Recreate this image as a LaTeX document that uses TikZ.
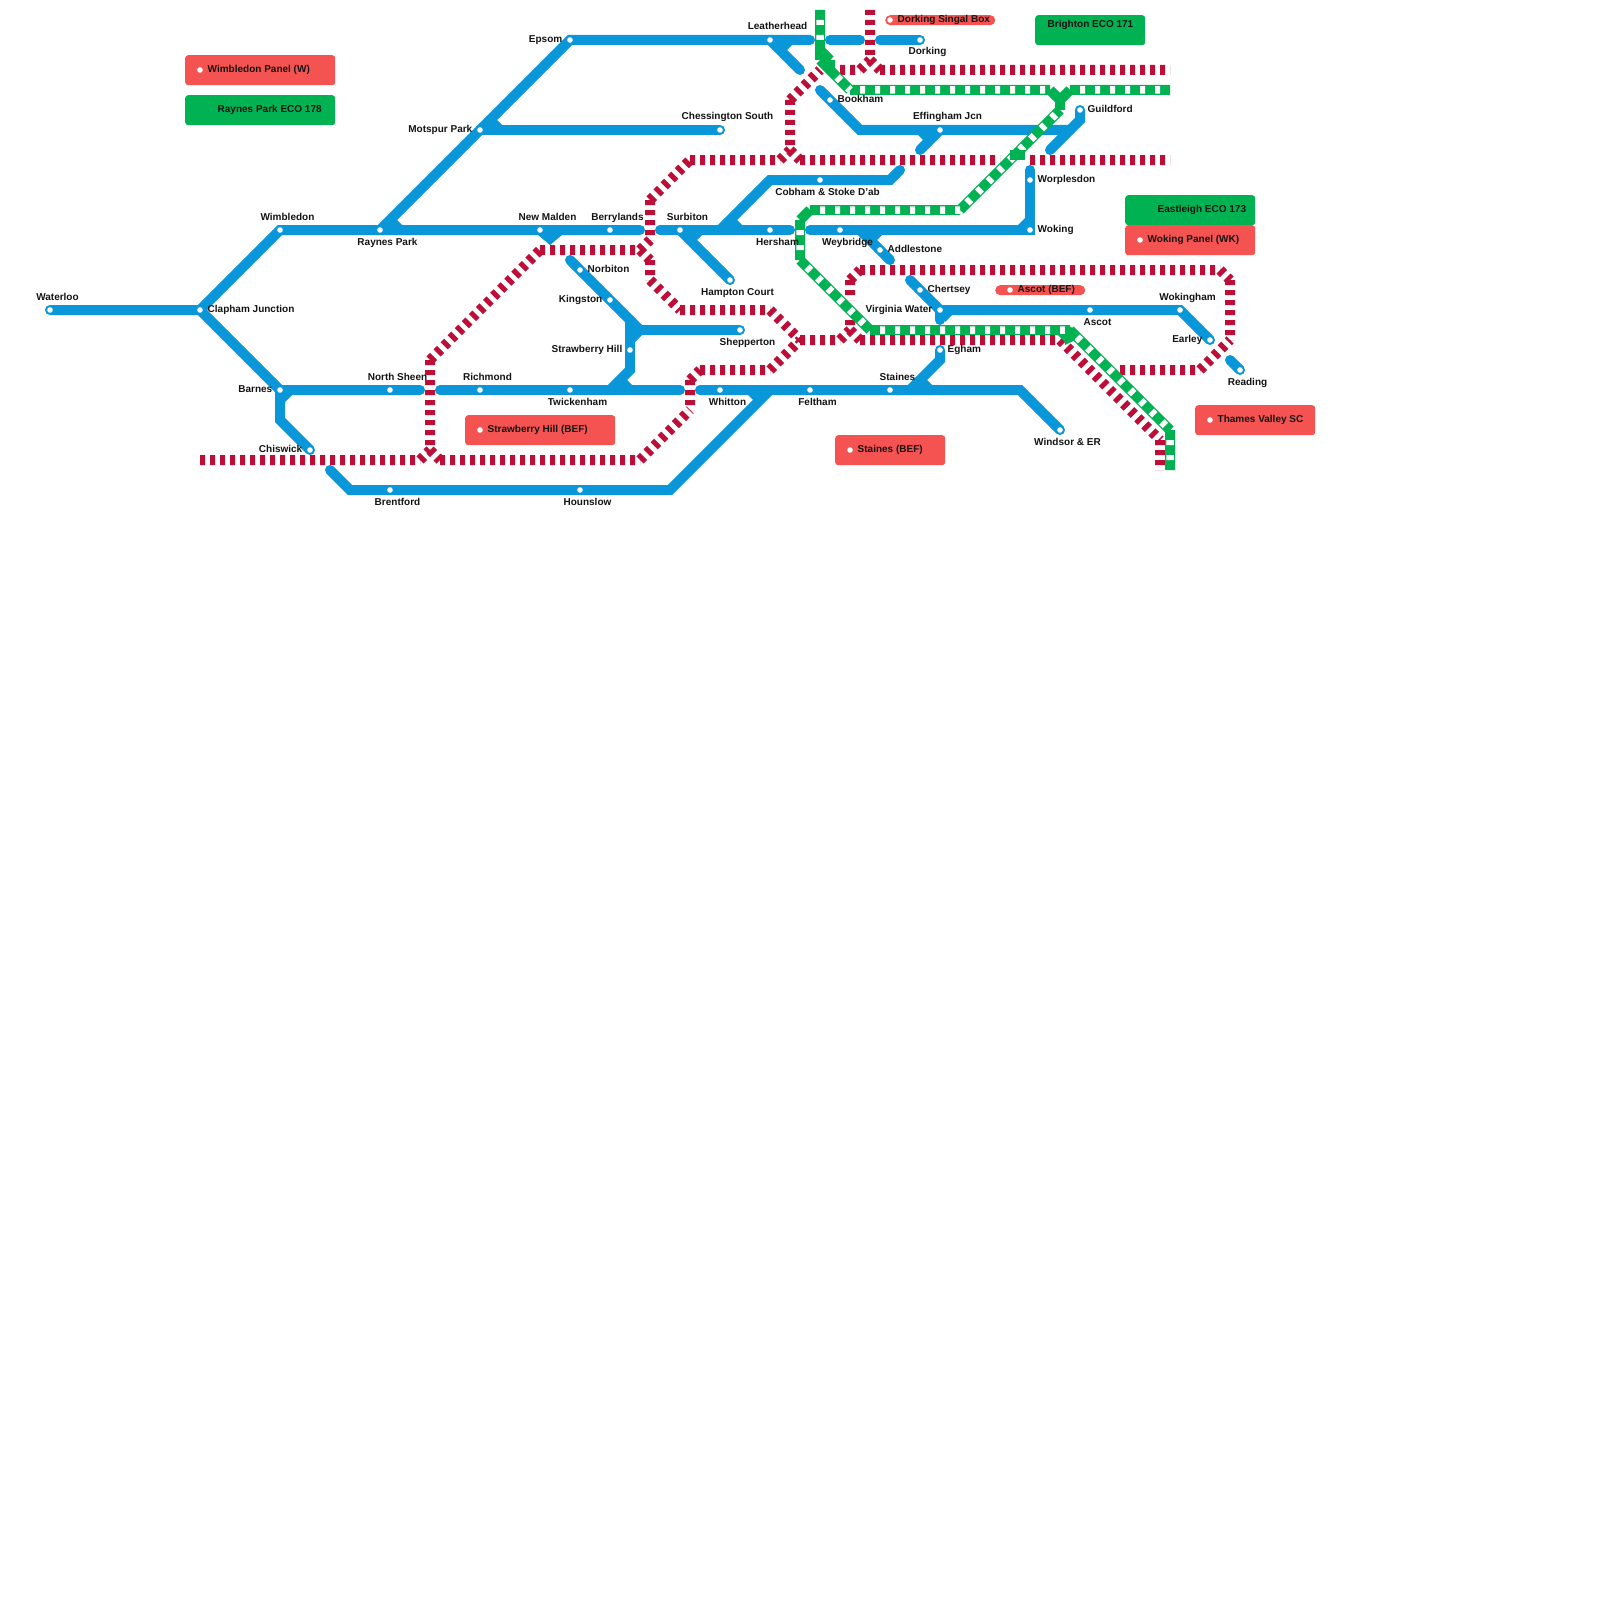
\documentclass[tikz,border=0pt]{standalone}
\usepackage{fontspec}
\setmainfont{Liberation Sans}
\definecolor{tblue}{RGB}{9,151,217}
\definecolor{tred}{RGB}{189,14,56}
\definecolor{tgreen}{RGB}{0,178,82}
\definecolor{boxred}{RGB}{245,82,82}
\tikzset{
  blueline/.style={draw=tblue,line width=10pt,line cap=round,line join=miter},
  fillet/.style={fill=tblue},
  redline/.style={draw=tred,line width=10pt,line cap=butt,dash pattern=on 5pt off 5pt},
  greenline/.style={draw=tgreen,line width=10pt,line cap=butt},
  whitedash/.style={draw=white,line width=7.5pt,line cap=butt,dash pattern=on 5pt off 10pt,dash phase=5pt},
  stndot/.style={circle,fill=white,inner sep=0pt,minimum size=5.6pt},
  lbl/.style={inner sep=0pt,font=\bfseries\fontsize{10}{12}\selectfont,text=black!92},
  labT/.style={lbl,anchor=base,xshift=7.5pt,yshift=10pt},
  labB/.style={lbl,anchor=base,xshift=7.5pt,yshift=-15pt},
  labR/.style={lbl,anchor=base west,xshift=7.5pt,yshift=-2.5pt},
  labL/.style={lbl,anchor=base east,xshift=-7.5pt,yshift=-2.5pt},
  panelbox/.style={anchor=north west,inner sep=0pt,rounded corners=3pt,minimum height=30pt},
  redbox/.style={panelbox,fill=boxred},
  greenbox/.style={panelbox,fill=tgreen},
  pillbox/.style={anchor=north west,inner sep=0pt,rounded corners=5pt,minimum height=10pt,fill=boxred},
}
\begin{document}
\begin{tikzpicture}[x=1pt,y=-1pt]
\useasboundingbox (0,0) rectangle (1600,1600);
\fill[white] (0,0) rectangle (1600,1600);
% stations
\foreach \n/\x/\y in {waterloo/50/310,clapham/200/310,wimbledon/280/230,raynes/380/230,motspur/480/130,epsom/570/40,
 leatherhead/770/40,dorking/920/40,chessington/720/130,bookham/830/100,effingham/940/130,guildford/1080/110,
 worplesdon/1030/180,woking/1030/230,cobham/820/180,newmalden/540/230,berrylands/610/230,surbiton/680/230,
 hersham/770/230,weybridge/840/230,addlestone/880/250,norbiton/580/270,kingston/610/300,hampton/730/280,
 shepperton/740/330,strawberry/630/350,chertsey/920/290,virginia/940/310,ascot/1090/310,wokingham/1180/310,
 earley/1210/340,reading/1240/370,egham/940/350,staines/890/390,feltham/810/390,whitton/720/390,windsor/1060/430,
 twickenham/570/390,richmond/480/390,northsheen/390/390,barnes/280/390,chiswick/310/450,brentford/390/490,
 hounslow/580/490,
 pwimbledon/200/70,pstrawberry/480/430,pstaines/850/450,pwoking/1140/240,pthames/1210/420,pascot/1010/290,pdorking/890/20,
 eraynes/210/110,ebrighton/1040/25,eeastleigh/1150/210}
 {\coordinate (\n) at (\x,\y);}
% waypoints
\foreach \x/\y in {810/40,830/40,860/40,880/40,800/70,820/90,860/130,920/150,1070/130,1080/120,1050/150,1030/170,810/230,
 900/170,890/180,770/180,720/230,640/230,660/230,790/230,860/230,890/260,910/280,1230/360,940/320,940/360,910/390,
 1020/390,700/390,350/490,670/490,770/390,330/470,280/420,420/390,440/390,680/390,570/260,630/320,630/330,630/370,610/390,
 200/460,420/460,430/450,430/360,540/250,640/250,650/240,650/200,690/160,780/160,790/150,790/100,820/70,840/70,860/70,870/60,870/10,
 880/70,1170/70,800/160,1000/160,1030/160,1170/160,440/460,640/460,690/410,690/380,700/370,770/370,800/340,840/340,850/330,850/320,850/300,850/280,860/270,
 1220/270,1230/280,1230/340,1200/370,1120/370,650/260,650/280,680/310,770/310,860/340,1060/340,1160/440,1160/470,
 820/10,820/60,820/50,830/60,830/70,850/90,1050/90,1070/90,1170/90,1060/100,1060/110,960/210,810/210,800/220,800/260,870/330,1070/330,1060/330,1070/340,
 1170/430,1170/470}
 {\coordinate (p\x-\y) at (\x,\y);}
% panels
\node[redbox,minimum width=150pt] (b-wimbledon) at (185,55) {};
\node[greenbox,minimum width=150pt] (b-raynes) at (185,95) {};
\node[redbox,minimum width=150pt] (b-strawberry) at (465,415) {};
\node[redbox,minimum width=110pt] (b-staines) at (835,435) {};
\node[greenbox,minimum width=110pt] (b-brighton) at (1035,15) {};
\node[greenbox,minimum width=130pt] (b-eastleigh) at (1125,195) {};
\node[redbox,minimum width=130pt] (b-woking) at (1125,225) {};
\node[redbox,minimum width=120pt] (b-thames) at (1195,405) {};
\node[pillbox,minimum width=110pt] (b-dorking) at (885,15) {};
\node[pillbox,minimum width=90pt] (b-ascot) at (995,285) {};
% blue lines
\draw[blueline] (waterloo)--(clapham)--(wimbledon)--(p640-230);
\draw[blueline] (clapham)--(barnes)--(p420-390);
\draw[blueline] (barnes)--(p280-420)--(chiswick);
\draw[blueline] (raynes)--(motspur)--(epsom)--(p810-40);
\draw[blueline] (motspur)--(chessington);
\draw[blueline] (leatherhead)--(p800-70);
\draw[blueline] (p830-40)--(p860-40);
\draw[blueline] (p880-40)--(dorking);
\draw[blueline] (p820-90)--(p860-130)--(p1070-130);
\draw[blueline] (effingham)--(p920-150);
\draw[blueline] (guildford)--(p1080-120)--(p1050-150);
\draw[blueline] (p1030-170)--(woking)--(p810-230);
\draw[blueline] (p900-170)--(p890-180)--(p770-180)--(p720-230);
\draw[blueline] (p660-230)--(p790-230);
\draw[blueline] (surbiton)--(hampton);
\draw[blueline] (p860-230)--(p890-260);
\draw[blueline] (p910-280)--(virginia)--(wokingham)--(earley);
\draw[blueline] (virginia)--(p940-320);
\draw[blueline] (p1230-360)--(reading);
\draw[blueline] (egham)--(p940-360)--(p910-390);
\draw[blueline] (p440-390)--(p680-390);
\draw[blueline] (p700-390)--(p1020-390)--(windsor);
\draw[blueline] (p330-470)--(p350-490)--(p670-490)--(p770-390);
\draw[blueline] (p570-260)--(p630-320)--(p630-370)--(p610-390);
\draw[blueline] (p630-330)--(shepperton);
% junction fillets
\fill[fillet] (raynes)--+(17,-10)--+(22,-5)--cycle;
\fill[fillet] (motspur)--+(17,-10)--+(22,-5)--cycle;
\fill[fillet] (leatherhead)--+(17,10)--+(22,5)--cycle;
\fill[fillet] (surbiton)--+(17,10)--+(22,5)--cycle;
\fill[fillet] (p720-230)--+(17,-10)--+(22,-5)--cycle;
\fill[fillet] (effingham)--+(-17,10)--+(-22,5)--cycle;
\fill[fillet] (p860-230)--+(17,10)--+(22,5)--cycle;
\fill[fillet] (p910-390)--+(17,-10)--+(22,-5)--cycle;
\fill[fillet] (p610-390)--+(17,-10)--+(22,-5)--cycle;
\fill[fillet] (p770-390)--+(-17,10)--+(-22,5)--cycle;
\fill[fillet] (barnes)--+(5,12)--+(12,5)--cycle;
\fill[fillet] (woking)--+(-12,-5)--+(-5,-12)--cycle;
\fill[fillet] (virginia)--+(5,12)--+(12,5)--cycle;
\fill[fillet] (p630-330)--+(5,12)--+(12,5)--cycle;
\fill[fillet] (p630-330)--+(5,-12)--+(12,-5)--cycle;
\fill[fillet] (newmalden)++(-2,5)--+(24,0)--+(12,10)--cycle;
\fill[fillet] (p1070-130)--+(10,-10)--+(0,5)--cycle;
% red lines
\draw[redline] (p200-460)--(p420-460) (p420-460)--(p430-450) (p430-360)--(p430-450)
 (p430-360)--(p540-250) (p540-250)--(p640-250) (p640-250)--(p650-240) (p650-200)--(p650-240)
 (p650-200)--(p690-160) (p690-160)--(p780-160) (p780-160)--(p790-150) (p790-100)--(p790-150)
 (p790-100)--(p820-70) (p840-70)--(p860-70) (p860-70)--(p870-60) (p870-10)--(p870-60)
 (p870-60)--(p880-70) (p880-70)--(p1170-70) (p790-150)--(p800-160) (p800-160)--(p1000-160) (p1030-160)--(p1170-160)
 (p430-450)--(p440-460) (p440-460)--(p640-460) (p640-460)--(p690-410) (p690-380)--(p690-410)
 (p690-380)--(p700-370) (p700-370)--(p770-370) (p770-370)--(p800-340) (p800-340)--(p840-340) (p840-340)--(p850-330)
 (p850-320)--(p850-330) (p850-280)--(p850-300) (p850-280)--(p860-270) (p860-270)--(p1220-270) (p1220-270)--(p1230-280)
 (p1230-280)--(p1230-340) (p1200-370)--(p1230-340) (p1120-370)--(p1200-370)
 (p640-250)--(p650-260) (p650-260)--(p650-280) (p650-280)--(p680-310) (p680-310)--(p770-310) (p770-310)--(p800-340)
 (p850-330)--(p860-340) (p860-340)--(p1060-340) (p1060-340)--(p1160-440) (p1160-440)--(p1160-470);
% green lines
\draw[greenline] (p820-10)--(p820-60) (p820-60)--(p830-70) (p820-50)--(p830-60) (p830-60)--(p830-70) (p830-70)--(p850-90)
 (p850-90)--(p1050-90) (p1050-90)--(p1060-100) (p1070-90)--(p1060-100) (p1070-90)--(p1170-90) (p1060-100)--(p1060-110)
 (p960-210)--(p1060-110) (p810-210)--(p960-210) (p800-220)--(p810-210) (p800-220)--(p800-260) (p800-260)--(p870-330)
 (p870-330)--(p1070-330) (p1060-330)--(p1070-340) (p1070-330)--(p1070-340) (p1070-330)--(p1170-430) (p1170-430)--(p1170-470);
\draw[whitedash] (p820-10)--(p820-50) (p830-70)--(p850-90) (p850-90)--(p1050-90) (p1070-90)--(p1170-90)
 (p960-210)--(p1060-110) (p810-210)--(p960-210) (p800-220)--(p800-260) (p800-260)--(p870-330)
 (p870-330)--(p1070-330) (p1070-330)--(p1170-430) (p1170-430)--(p1170-470);
\fill[tgreen] (1010,150) rectangle (1025,160);
\fill[tgreen] (1065,325)--(1073,328)--(1075,340)--(1065,345)--cycle;
% station dots
\foreach \s in {waterloo,clapham,wimbledon,raynes,motspur,epsom,leatherhead,dorking,chessington,bookham,effingham,guildford,
 worplesdon,woking,cobham,newmalden,berrylands,surbiton,hersham,weybridge,addlestone,norbiton,kingston,hampton,
 shepperton,strawberry,chertsey,virginia,ascot,wokingham,earley,reading,egham,staines,feltham,whitton,windsor,
 twickenham,richmond,northsheen,barnes,chiswick,brentford,hounslow,pwimbledon,pstrawberry,pstaines,pwoking,pthames,pascot,pdorking}
 {\node[stndot] (dot-\s) at (\s) {};}
% labels
\node[labT] (t-waterloo) at (waterloo) {Waterloo};
\node[labR] (t-clapham) at (clapham) {Clapham Junction};
\node[labT] (t-wimbledon) at (wimbledon) {Wimbledon};
\node[labB] (t-raynes) at (raynes) {Raynes Park};
\node[labL] (t-motspur) at (motspur) {Motspur Park};
\node[labL] (t-epsom) at (epsom) {Epsom};
\node[labT] (t-leatherhead) at (leatherhead) {Leatherhead};
\node[labB] (t-dorking) at (dorking) {Dorking};
\node[labT] (t-chessington) at (chessington) {Chessington South};
\node[labR] (t-bookham) at (bookham) {Bookham};
\node[labT] (t-effingham) at (effingham) {Effingham Jcn};
\node[labR] (t-guildford) at (guildford) {Guildford};
\node[labR] (t-worplesdon) at (worplesdon) {Worplesdon};
\node[labR] (t-woking) at (woking) {Woking};
\node[labB] (t-cobham) at (cobham) {Cobham \& Stoke D'ab};
\node[labT] (t-newmalden) at (newmalden) {New Malden};
\node[labT] (t-berrylands) at (berrylands) {Berrylands};
\node[labT] (t-surbiton) at (surbiton) {Surbiton};
\node[labB] (t-hersham) at (hersham) {Hersham};
\node[labB] (t-weybridge) at (weybridge) {Weybridge};
\node[labR] (t-addlestone) at (addlestone) {Addlestone};
\node[labR] (t-norbiton) at (norbiton) {Norbiton};
\node[labL] (t-kingston) at (kingston) {Kingston};
\node[labB] (t-hampton) at (hampton) {Hampton Court};
\node[labB] (t-shepperton) at (shepperton) {Shepperton};
\node[labL] (t-strawberry) at (strawberry) {Strawberry Hill};
\node[labR] (t-chertsey) at (chertsey) {Chertsey};
\node[labL] (t-virginia) at (virginia) {Virginia Water};
\node[labB] (t-ascot) at (ascot) {Ascot};
\node[labT] (t-wokingham) at (wokingham) {Wokingham};
\node[labL] (t-earley) at (earley) {Earley};
\node[labB] (t-reading) at (reading) {Reading};
\node[labR] (t-egham) at (egham) {Egham};
\node[labT] (t-staines) at (staines) {Staines};
\node[labB] (t-feltham) at (feltham) {Feltham};
\node[labB] (t-whitton) at (whitton) {Whitton};
\node[labB] (t-windsor) at (windsor) {Windsor \& ER};
\node[labB] (t-twickenham) at (twickenham) {Twickenham};
\node[labT] (t-richmond) at (richmond) {Richmond};
\node[labT] (t-northsheen) at (northsheen) {North Sheen};
\node[labL] (t-barnes) at (barnes) {Barnes};
\node[labL] (t-chiswick) at (chiswick) {Chiswick};
\node[labB] (t-brentford) at (brentford) {Brentford};
\node[labB] (t-hounslow) at (hounslow) {Hounslow};
\node[labR] (t-pwimbledon) at (pwimbledon) {Wimbledon Panel (W)};
\node[labR] (t-eraynes) at (eraynes) {Raynes Park ECO 178};
\node[labR] (t-pstrawberry) at (pstrawberry) {Strawberry Hill (BEF)};
\node[labR] (t-pstaines) at (pstaines) {Staines (BEF)};
\node[labR] (t-ebrighton) at (ebrighton) {Brighton ECO 171};
\node[labR] (t-eeastleigh) at (eeastleigh) {Eastleigh ECO 173};
\node[labR] (t-pwoking) at (pwoking) {Woking Panel (WK)};
\node[labR] (t-pthames) at (pthames) {Thames Valley SC};
\node[labR] (t-pdorking) at (pdorking) {Dorking Singal Box};
\node[labR] (t-pascot) at (pascot) {Ascot (BEF)};
\end{tikzpicture}
\end{document}
